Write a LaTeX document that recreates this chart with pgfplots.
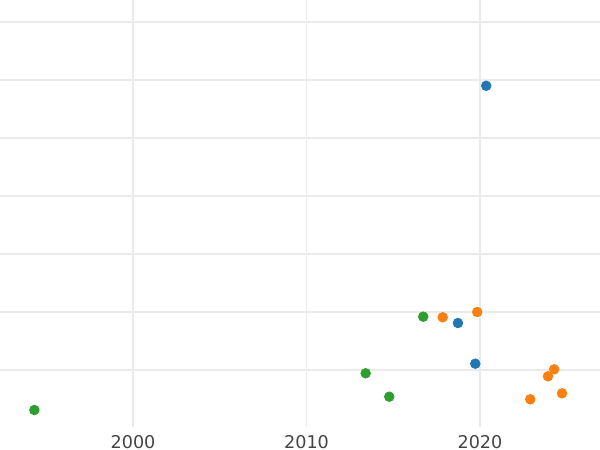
\documentclass[border=0pt]{standalone}
\usepackage{pgfplots}
\pgfplotsset{compat=1.18}
\usepackage{fontspec}
\setmainfont{DejaVu Sans}
\definecolor{cblue}{HTML}{1F77B4}
\definecolor{corange}{HTML}{FF7F0E}
\definecolor{cgreen}{HTML}{2CA02C}
\definecolor{gridc}{HTML}{EBEBEB}
\definecolor{tickc}{HTML}{444444}
\begin{document}
\begin{tikzpicture}
\begin{axis}[
  at={(0,0)}, anchor=north west,
  scale only axis, width=300pt, height=213.5pt,
  xmin=1992.33, xmax=2026.92,
  ymin=-0.983, ymax=6.379,
  axis line style={draw=none},
  xtick={2000,2010,2020},
  ytick={0,1,2,3,4,5,6},
  yticklabels={},
  major tick length=0pt,
  xmajorgrids, ymajorgrids,
  grid style={gridc, line width=0.65pt},
  x tick label style={font=\fontsize{8.8}{10}\selectfont, text=tickc, yshift=-0.5pt},
  /pgf/number format/1000 sep={},
  /pgf/number format/assume math mode=true,
  clip=false,
]
\addplot[only marks, mark=*, mark size=2.4pt, mark options={draw=cblue, fill=cblue}] coordinates {
(2020.36,4.90) (2018.73,0.81) (2019.73,0.109)
};
\addplot[only marks, mark=*, mark size=2.4pt, mark options={draw=corange, fill=corange}] coordinates {
(2017.85,0.909) (2019.84,1.0) (2022.90,-0.505) (2023.92,-0.109) (2024.28,0.012) (2024.73,-0.402)
};
\addplot[only marks, mark=*, mark size=2.4pt, mark options={draw=cgreen, fill=cgreen}] coordinates {
(1994.31,-0.69) (2013.41,-0.057) (2014.77,-0.46) (2016.73,0.919)
};
\end{axis}
\pgfresetboundingbox
\path (0,0) rectangle (300pt,-225pt);
\end{tikzpicture}
\end{document}
